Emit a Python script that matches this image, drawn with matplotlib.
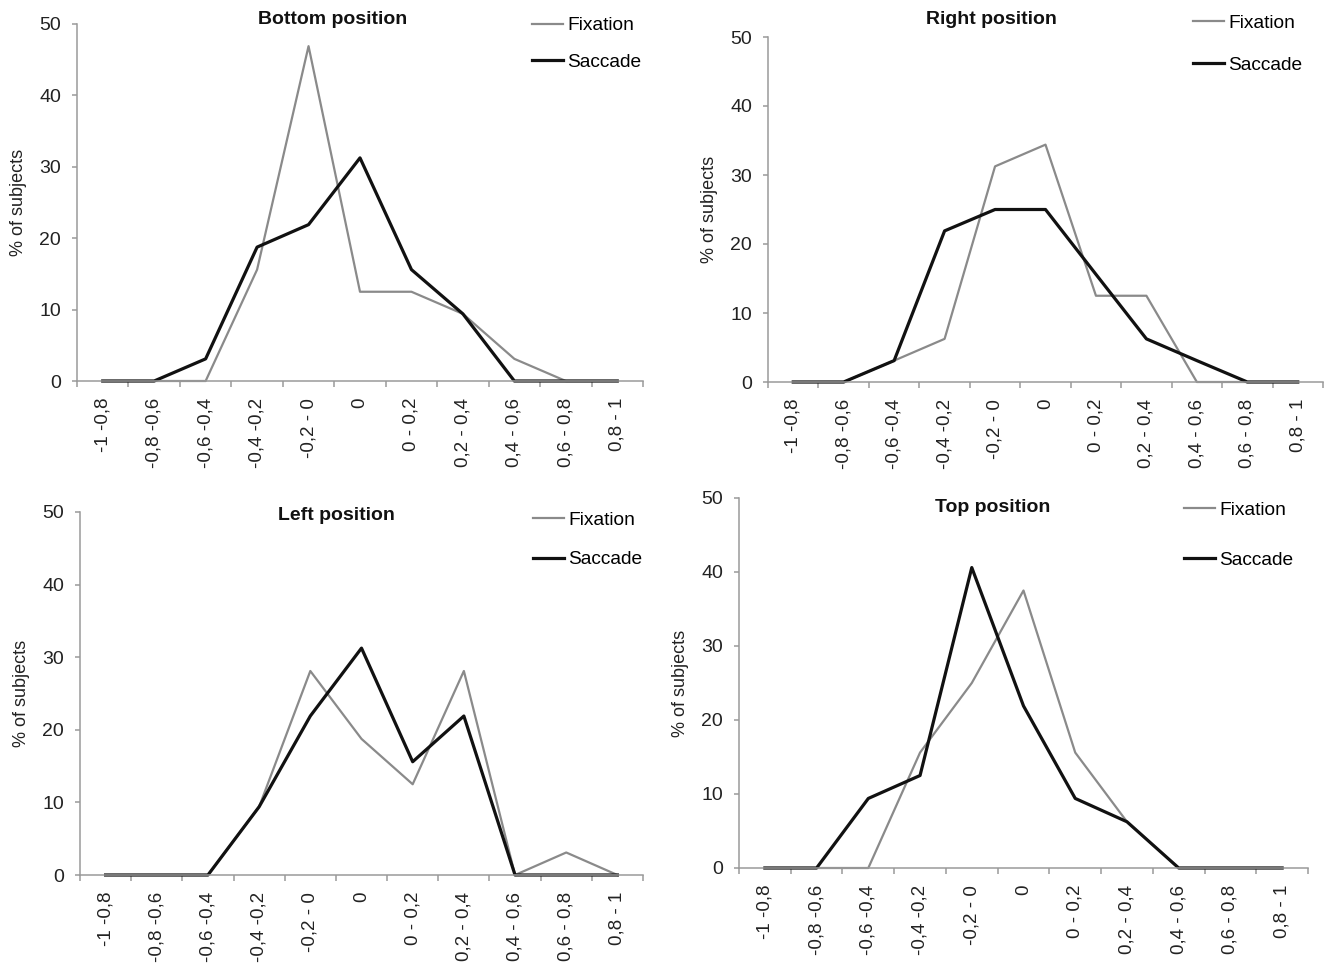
import matplotlib
matplotlib.use("Agg")
import matplotlib.pyplot as plt
import numpy as np

plt.rcParams['font.family'] = ['Liberation Sans', 'DejaVu Sans']

# Gaze displacement bins
bins = ["-1 -0,8", "-0,8 -0,6", "-0,6 -0,4", "-0,4 -0,2", "-0,2 - 0", "0",
        "0 - 0,2", "0,2 - 0,4", "0,4 - 0,6", "0,6 - 0,8", "0,8 - 1"]

# % of subjects per bin
bottom_fix = [0, 0, 0, 15.6, 46.9, 12.5, 12.5, 9.4, 3.1, 0, 0]
bottom_sac = [0, 0, 3.1, 18.75, 21.9, 31.25, 15.6, 9.4, 0, 0, 0]
right_fix = [0, 0, 3.1, 6.25, 31.25, 34.4, 12.5, 12.5, 0, 0, 0]
right_sac = [0, 0, 3.1, 21.9, 25, 25, 15.6, 6.25, 3.1, 0, 0]
left_fix = [0, 0, 0, 9.4, 28.1, 18.75, 12.5, 28.1, 0, 3.1, 0]
left_sac = [0, 0, 0, 9.4, 21.9, 31.25, 15.6, 21.9, 0, 0, 0]
top_fix = [0, 0, 0, 15.6, 25, 37.5, 15.6, 6.25, 0, 0, 0]
top_sac = [0, 0, 9.4, 12.5, 40.6, 21.9, 9.4, 6.25, 0, 0, 0]

W, H = 1324, 967
fig = plt.figure(figsize=(W / 100, H / 100), dpi=100)

# (title, fixation, saccade, axes box in px [left, right, top, bottom],
#  title centre px, legend left x / middle y px, legend row spacing)
panels = [
    ("Bottom position", bottom_fix, bottom_sac, (77, 643, 24, 381), (333, 20), (532, 44), 1.0),
    ("Right position", right_fix, right_sac, (768, 1323, 37, 382), (991, 20), (1193, 44), 1.3),
    ("Left position", left_fix, left_sac, (80, 643, 512, 875), (336, 515), (533, 540), 1.15),
    ("Top position", top_fix, top_sac, (739, 1308, 498, 868), (993, 508), (1184, 535), 1.7),
]

axis_grey = '#9a9a9a'
x = np.arange(len(bins))

for title, fix, sac, box, tpos, lpos, lspace in panels:
    l, r, t, b = box
    ax = fig.add_axes([l / W, 1 - b / H, (r - l) / W, (b - t) / H])
    ax.plot(x, fix, color='#8a8a8a', lw=1.6, clip_on=False, label='Fixation')
    ax.plot(x, sac, color='#111111', lw=2.3, clip_on=False, label='Saccade')

    ax.set_xlim(-0.5, len(bins) - 0.5)
    ax.set_ylim(0, 50)
    ax.set_yticks(range(0, 51, 10))
    ax.set_xticks(x)
    ax.set_xticklabels(bins, rotation=90, va='top', ha='center', fontsize=13.5,
                       color='#222222')
    ax.set_xticks(np.arange(-0.5, len(bins)), minor=True)
    ax.tick_params(axis='x', which='major', length=0, pad=12)
    ax.tick_params(axis='x', which='minor', length=4.5, width=1.1, color=axis_grey)
    ax.tick_params(axis='y', length=3.6, width=1.1, color=axis_grey, pad=8,
                   labelsize=14, labelcolor='#222222')

    for side in ('top', 'right'):
        ax.spines[side].set_visible(False)
    for side in ('left', 'bottom'):
        ax.spines[side].set_color(axis_grey)
        ax.spines[side].set_linewidth(1.1)

    ax.set_ylabel("% of subjects", fontsize=13, color='#222222')
    ax.yaxis.set_label_coords(-50 / (r - l), 0.5)

    fig.text(tpos[0] / W, 1 - tpos[1] / H, title, ha='center', va='center',
             fontsize=14, fontweight='bold', color='#111111')

    ax.legend(loc='center left', bbox_to_anchor=(lpos[0] / W, 1 - lpos[1] / H),
              bbox_transform=fig.transFigure, frameon=False, fontsize=13.8,
              handlelength=1.6, handletextpad=0.25, borderpad=0, borderaxespad=0,
              labelspacing=lspace)

fig.savefig("out.png", dpi=100)
